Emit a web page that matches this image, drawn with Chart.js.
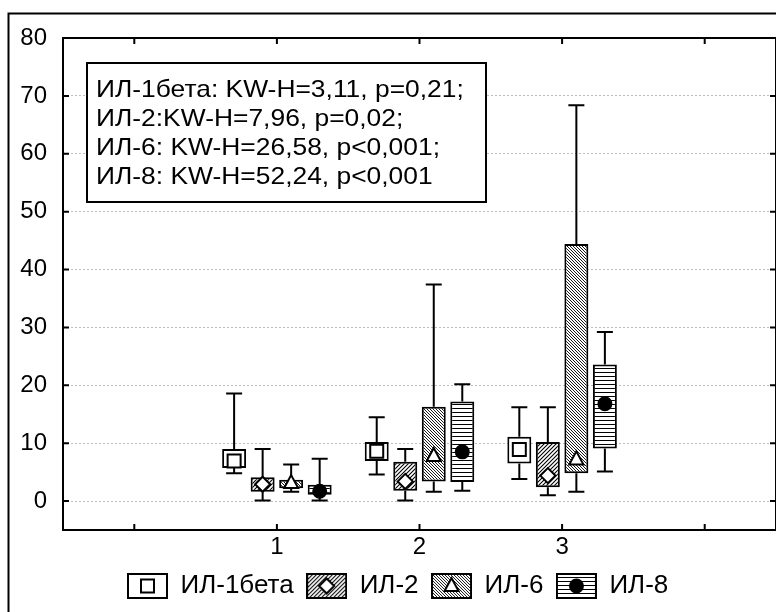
<!DOCTYPE html>
<html>
<head>
<meta charset="utf-8">
<title>ИЛ по группам</title>
<script src="https://cdn.jsdelivr.net/npm/chart.js@4.4.1/dist/chart.umd.min.js"></script>
<style>
  html, body { margin: 0; padding: 0; background: #fff; overflow: hidden; }
  #wrap { width: 776px; height: 612px; }
</style>
</head>
<body>
<div id="wrap"><canvas id="chart" width="776" height="612"></canvas></div>
<script>
// groups 1..3, with empty slots left and right like the original axis
const groups = ['', '1', '2', '3', ''];
const yTicks = [0, 10, 20, 30, 40, 50, 60, 70, 80];
const seriesNames = ['ИЛ-1бета', 'ИЛ-2', 'ИЛ-6', 'ИЛ-8'];

const il1bMin = [4.8, 4.6, 3.8];
const il1bQ1  = [5.7, 6.9, 6.5];
const il1bMed = [6.9, 8.6, 8.9];
const il1bQ3  = [9.0, 10.2, 11.1];
const il1bMax = [18.6, 14.5, 16.2];

const il2Min = [0.1, 0.1, 1.0];
const il2Q1  = [1.6, 1.8, 2.4];
const il2Med = [2.9, 3.4, 4.4];
const il2Q3  = [4.1, 6.8, 10.2];
const il2Max = [9.0, 9.0, 16.2];

const il6Min = [1.6, 1.6, 1.6];
const il6Q1  = [2.2, 3.4, 4.8];
const il6Med = [3.1, 7.8, 7.2];
const il6Q3  = [3.7, 16.3, 44.4];
const il6Max = [6.3, 37.4, 68.4];

const il8Min = [0.1, 1.8, 5.1];
const il8Q1  = [1.1, 3.3, 9.1];
const il8Med = [1.7, 8.5, 16.8];
const il8Q3  = [2.8, 17.2, 23.6];
const il8Max = [7.3, 20.2, 29.2];

const statsText = [
  'ИЛ-1бета: KW-H=3,11, p=0,21;',
  'ИЛ-2:KW-H=7,96, p=0,02;',
  'ИЛ-6: KW-H=26,58, p<0,001;',
  'ИЛ-8: KW-H=52,24, p<0,001'
];

const FONT = '"Liberation Sans", Arial, sans-serif';
Chart.defaults.color = '#000';
Chart.defaults.font.family = FONT;

function pad(arr){
  return [null, ...arr, null];
}

function hatch(kind, s, lw){
  const c = document.createElement('canvas');
  c.width = s; c.height = s;
  const g = c.getContext('2d');
  g.fillStyle = '#fff';
  g.fillRect(0, 0, s, s);
  g.strokeStyle = '#000';
  g.lineWidth = lw;
  g.beginPath();
  if(kind === 'h'){
    g.moveTo(0, 0.5); g.lineTo(s, 0.5);
  } else if(kind === 'fwd'){
    g.moveTo(-1, s + 1); g.lineTo(s + 1, -1);
    g.moveTo(-1, 1); g.lineTo(1, -1);
    g.moveTo(s - 1, s + 1); g.lineTo(s + 1, s - 1);
  } else {
    g.moveTo(-1, -1); g.lineTo(s + 1, s + 1);
    g.moveTo(s - 1, -1); g.lineTo(s + 1, 1);
    g.moveTo(-1, s - 1); g.lineTo(1, s + 1);
  }
  g.stroke();
  return g.createPattern(c, 'repeat');
}

function drawMarker(ctx, kind, x, y){
  ctx.save();
  ctx.lineWidth = 2;
  ctx.strokeStyle = '#000';
  ctx.fillStyle = '#fff';
  ctx.beginPath();
  if(kind === 'square'){
    ctx.rect(x - 6.5, y - 6.5, 13, 13);
  } else if(kind === 'diamond'){
    ctx.moveTo(x, y - 7.5); ctx.lineTo(x + 7.5, y); ctx.lineTo(x, y + 7.5); ctx.lineTo(x - 7.5, y);
    ctx.closePath();
  } else if(kind === 'triangle'){
    ctx.moveTo(x, y - 8); ctx.lineTo(x + 7, y + 5); ctx.lineTo(x - 7, y + 5);
    ctx.closePath();
  } else {
    ctx.arc(x, y, 6.5, 0, Math.PI * 2);
    ctx.fillStyle = '#000';
  }
  ctx.fill();
  ctx.stroke();
  ctx.restore();
}

function legendIcon(fill, kind){
  const c = document.createElement('canvas');
  c.width = 41; c.height = 26;
  const g = c.getContext('2d');
  g.fillStyle = fill;
  g.fillRect(1, 1, 39, 24);
  g.lineWidth = 2;
  g.strokeStyle = '#000';
  g.strokeRect(1, 1, 39, 24);
  drawMarker(g, kind, 20.5, 13);
  return c;
}

const fills = ['#fff', hatch('fwd', 4, 1.1), hatch('back', 3.5, 0.9), hatch('h', 4, 1)];
const markers = ['square', 'diamond', 'triangle', 'circle'];
const mins = [il1bMin, il2Min, il6Min, il8Min];
const q1s = [il1bQ1, il2Q1, il6Q1, il8Q1];
const meds = [il1bMed, il2Med, il6Med, il8Med];
const q3s = [il1bQ3, il2Q3, il6Q3, il8Q3];
const maxs = [il1bMax, il2Max, il6Max, il8Max];

const datasets = seriesNames.map((name, i) => ({
  label: name,
  data: pad(q1s[i].map((v, j) => [v, q3s[i][j]])),
  backgroundColor: fills[i],
  borderColor: '#000',
  borderWidth: 2,
  borderSkipped: false,
  categoryPercentage: 0.8,
  barPercentage: 0.84,
  mins: pad(mins[i]),
  meds: pad(meds[i]),
  maxs: pad(maxs[i]),
  marker: markers[i]
}));

const boxExtras = {
  id: 'boxExtras',
  beforeDraw(chart){
    const ctx = chart.ctx;
    ctx.save();
    ctx.fillStyle = '#fff';
    ctx.fillRect(0, 0, chart.width, chart.height);
    ctx.restore();
  },
  afterLayout(chart){
    const lg = chart.legend;
    const dx = 114.5 - lg.left;
    const dy = -3;
    lg.left += dx; lg.right += dx;
    lg.top += dy; lg.bottom += dy;
  },
  afterDatasetsDraw(chart){
    const ctx = chart.ctx;
    const y = chart.scales.y;
    const x = chart.scales.x;
    const area = chart.chartArea;

    // whiskers + medians
    chart.data.datasets.forEach((ds, i) => {
      const meta = chart.getDatasetMeta(i);
      meta.data.forEach((bar, j) => {
        if(!ds.data[j]) return;
        const bx = bar.x;
        const yq1 = y.getPixelForValue(ds.data[j][0]);
        const yq3 = y.getPixelForValue(ds.data[j][1]);
        const yMin = y.getPixelForValue(ds.mins[j]);
        const yMax = y.getPixelForValue(ds.maxs[j]);
        ctx.save();
        ctx.strokeStyle = '#000';
        ctx.lineWidth = 2;
        ctx.beginPath();
        ctx.moveTo(bx, yq3); ctx.lineTo(bx, yMax);
        ctx.moveTo(bx - 8, yMax); ctx.lineTo(bx + 8, yMax);
        ctx.moveTo(bx, yq1); ctx.lineTo(bx, yMin);
        ctx.moveTo(bx - 8, yMin); ctx.lineTo(bx + 8, yMin);
        ctx.stroke();
        ctx.restore();
        drawMarker(ctx, ds.marker, bx, y.getPixelForValue(ds.meds[j]));
      });
    });

    // statistics box
    const boxL = area.left + 24, boxT = area.top + 25;
    ctx.save();
    ctx.fillStyle = '#fff';
    ctx.fillRect(boxL, boxT, 399, 139);
    ctx.lineWidth = 2;
    ctx.strokeStyle = '#000';
    ctx.strokeRect(boxL, boxT, 399, 139);
    ctx.fillStyle = '#000';
    ctx.font = '24px ' + FONT;
    ctx.textBaseline = 'alphabetic';
    statsText.forEach((line, k) => {
      ctx.save();
      ctx.translate(boxL + 9, boxT + 34 + k * 28.9);
      ctx.scale(1.1, 1);
      ctx.fillText(line, 0, 0);
      ctx.restore();
    });
    ctx.restore();

    // plot frame and inward ticks
    ctx.save();
    ctx.strokeStyle = '#000';
    ctx.lineWidth = 2;
    ctx.strokeRect(area.left, area.top, area.right - area.left, area.bottom - area.top);
    ctx.beginPath();
    yTicks.forEach(v => {
      const py = y.getPixelForValue(v);
      ctx.moveTo(area.left, py); ctx.lineTo(area.left + 6, py);
      ctx.moveTo(area.right, py); ctx.lineTo(area.right - 6, py);
    });
    groups.forEach((g, k) => {
      const px = x.getPixelForValue(k);
      ctx.moveTo(px, area.top); ctx.lineTo(px, area.top + 6);
      ctx.moveTo(px, area.bottom); ctx.lineTo(px, area.bottom - 6);
    });
    ctx.stroke();

    // outer frame
    ctx.beginPath();
    ctx.moveTo(8.5, chart.height);
    ctx.lineTo(8.5, 13.5);
    ctx.lineTo(chart.width, 13.5);
    ctx.stroke();
    ctx.restore();
  }
};

const chart = new Chart(document.getElementById('chart'), {
  type: 'bar',
  data: {
    labels: groups,
    datasets: datasets
  },
  options: {
    responsive: false,
    animation: false,
    events: [],
    layout: { padding: { top: 38, left: 0, right: 0, bottom: 0 } },
    plugins: {
      tooltip: { enabled: false },
      legend: {
        position: 'bottom',
        align: 'start',
        labels: {
          usePointStyle: true,
          pointStyleWidth: 40,
          padding: 13,
          color: '#000',
          font: { size: 26, family: FONT },
          generateLabels: (c) => seriesNames.map((name, i) => ({
            text: name,
            pointStyle: legendIcon(fills[i], markers[i]),
            lineWidth: 0,
            datasetIndex: i,
            hidden: false
          }))
        }
      }
    },
    scales: {
      x: {
        grid: { display: false, drawTicks: false },
        border: { display: false },
        ticks: { padding: 3, font: { size: 24, family: FONT }, color: '#000' },
        afterFit: (s) => { s.height = 33; }
      },
      y: {
        min: -5,
        max: 80,
        afterBuildTicks: (s) => { s.ticks = yTicks.map(v => ({ value: v })); },
        grid: { color: '#bdbdbd', lineWidth: 1, drawTicks: false },
        border: { display: false, dash: [2, 2] },
        ticks: { padding: 16, font: { size: 24, family: FONT }, color: '#000' },
        afterFit: (s) => { s.width = 63; }
      }
    }
  },
  plugins: [boxExtras]
});
</script>
</body>
</html>
